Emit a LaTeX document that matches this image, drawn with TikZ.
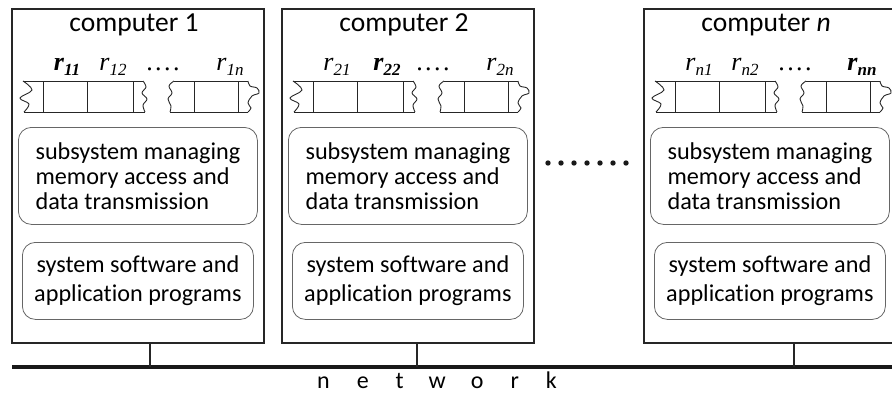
\documentclass[tikz,border=0pt]{standalone}
\usepackage{fontspec}
\setmainfont{Carlito}[Ligatures=NoCommon]
\newfontfamily\tms{Liberation Serif}
\newcommand\rlab[1]{{\tms\itshape\fontsize{26}{26}\selectfont r\raisebox{-5pt}{\fontsize{17}{17}\selectfont #1}}}
\newcommand\rlabb[1]{{\bfseries\rlab{#1}}}
\tikzset{
  compbox/.style={draw=black!85, line width=1.3pt, anchor=north west,
    minimum width=252pt, minimum height=334pt, inner sep=0pt, outer sep=0pt},
  subbox/.style={draw=black!60, line width=0.8pt, rounded corners=13pt, anchor=north west,
    minimum width=239pt, minimum height=97pt, inner sep=2pt,
    align=left, font=\fontsize{24.2}{25}\selectfont},
  sysbox/.style={draw=black!60, line width=0.8pt, rounded corners=13pt, anchor=north west,
    minimum width=231pt, minimum height=77pt, inner sep=2pt,
    align=center, font=\fontsize{24.2}{29}\selectfont},
  title/.style={font=\fontsize{27.5}{30}\selectfont, inner sep=0pt},
  rtext/.style={anchor=base, inner sep=0pt},
  wire/.style={draw=black!85, line width=1.3pt},
  regline/.style={draw=black!85, line width=0.9pt},
  regs/.pic={
    % first register segment
    \draw[regline] (11,81) -- (131,81);
    \draw[regline] (12,112) -- (133,112);
    \draw[regline] plot[smooth, tension=0.6] coordinates {(11,81) (20,90) (8,98) (17,104) (12,112)};
    \draw[regline] plot[smooth, tension=0.6] coordinates {(131,81) (134,87) (130,93) (135,99) (131,105) (133,112)};
    \foreach \x in {31,75,121} \draw[regline] (\x,81) -- (\x,112);
    % last register segment
    \draw[regline] (162,81) -- (236,81);
    \draw[regline] (158,112) -- (236,112);
    \draw[regline] plot[smooth, tension=0.6] coordinates {(162,81) (157,86) (160,93) (156,99) (159,106) (158,112)};
    \draw[regline] plot[smooth, tension=0.6] coordinates {(236,81) (238,86) (245,88) (247,93) (240,96) (236,103) (239,108) (236,112)};
    \foreach \x in {182,226} \draw[regline] (\x,81) -- (\x,112);
    \node[rtext] at (151,70) {{\tms\fontsize{26}{26}\selectfont.\kern2.5pt.\kern2.5pt.\kern2.5pt.}};
  }
}
\begin{document}
\begin{tikzpicture}[x=1pt, y=-1pt]
  \path[use as bounding box] (0,0) rectangle (892,394);
  \clip (0,0) rectangle (892,394);

  % computers
  \node[compbox] (c1) at (12,9) {};
  \node[compbox] (c2) at (282,9) {};
  \node[compbox] (cn) at (644,9) {};

  \node[title] (t1) at (134,25) {computer 1};
  \node[title] (t2) at (404,25) {computer 2};
  \node[title] (tn) at (766,25) {computer \textit{n}};

  % registers
  \pic at (12,0) {regs};
  \pic at (282,0) {regs};
  \pic at (644,0) {regs};

  \node[rtext] (r11) at (67,70) {\rlabb{11}};
  \node[rtext] (r12) at (113,70) {\rlab{12}};
  \node[rtext] (r1n) at (230,70) {\rlab{1n}};
  \node[rtext] (r21) at (337,70) {\rlab{21}};
  \node[rtext] (r22) at (387,70) {\rlabb{22}};
  \node[rtext] (r2n) at (500,70) {\rlab{2n}};
  \node[rtext] (rn1) at (699,70) {\rlab{n1}};
  \node[rtext] (rn2) at (745,70) {\rlab{n2}};
  \node[rtext] (rnn) at (862,70) {\rlabb{nn}};

  % subsystems
  \node[subbox] (s1) at (18,127) {subsystem managing\\memory access and\\data transmission};
  \node[subbox] (s2) at (288,127) {subsystem managing\\memory access and\\data transmission};
  \node[subbox] (sn) at (650,127) {subsystem managing\\memory access and\\data transmission};

  \node[sysbox] (p1) at (22,242) {system software and\\application programs};
  \node[sysbox] (p2) at (292,242) {system software and\\application programs};
  \node[sysbox] (pn) at (654,242) {system software and\\application programs};

  % omitted computers
  \foreach \i in {0,...,6} \fill[black!90] (548+13*\i,163) circle (2.7pt);

  % network bus
  \coordinate (netL) at (12,367);
  \coordinate (netR) at (892,367);
  \draw[black!90, line width=3.5pt] (netL) -- (netR);
  \coordinate (b1) at (150,367);
  \coordinate (b2) at (417,367);
  \coordinate (bn) at (794,367);
  \draw[wire] (c1.south -| b1) -- (b1);
  \draw[wire] (c2.south -| b2) -- (b2);
  \draw[wire] (cn.south -| bn) -- (bn);
  \node[font=\fontsize{24}{24}\selectfont, inner sep=0pt, anchor=base] (net) at (437,388)
    {n\hspace{27pt}e\hspace{27pt}t\hspace{25pt}w\hspace{25pt}o\hspace{27pt}r\hspace{27pt}k};
\end{tikzpicture}
\end{document}
